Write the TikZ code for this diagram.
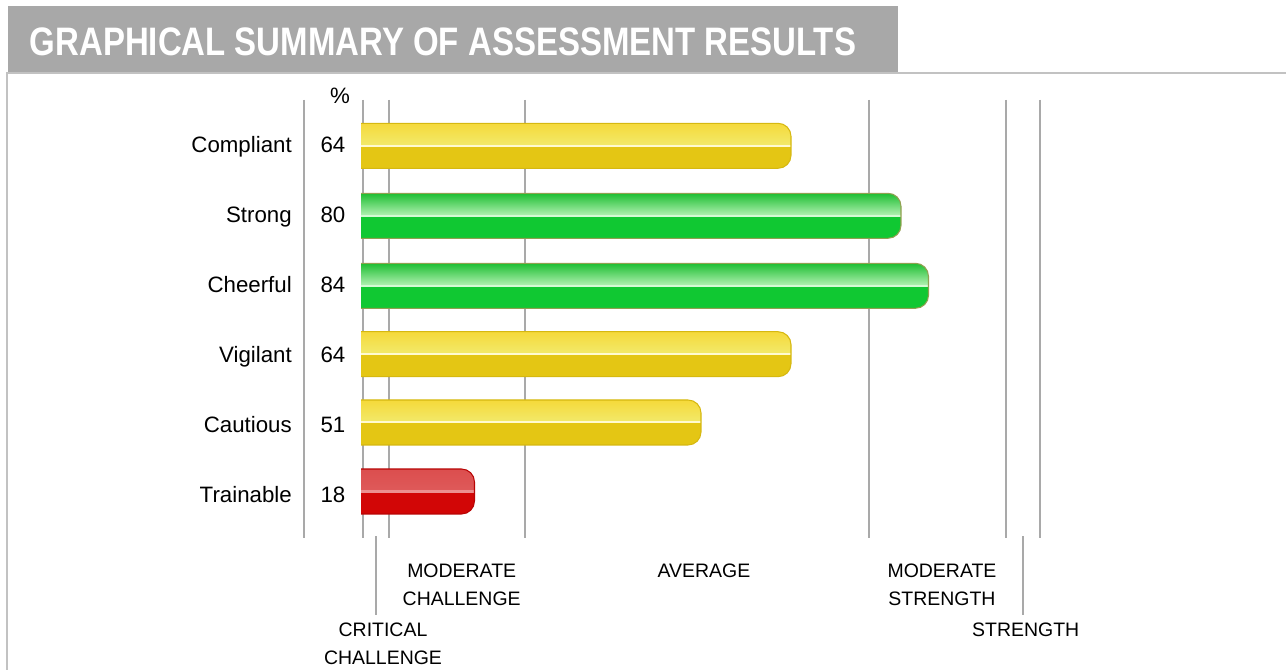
\documentclass[tikz,border=0pt]{standalone}
\usepackage{fontspec}
\setmainfont{Liberation Sans}
\definecolor{headgray}{HTML}{A8A8A8}
\definecolor{framegray}{HTML}{C2C2C2}
\definecolor{gridgray}{HTML}{A9A9A9}
% yellow
\definecolor{yA}{HTML}{F5D93A}
\definecolor{yB}{HTML}{F2EA6C}
\definecolor{yH}{HTML}{FFFAD0}
\definecolor{yC}{HTML}{E4C614}
\definecolor{yE}{HTML}{D6B810}
% green
\definecolor{gA}{HTML}{1EBE32}
\definecolor{gB}{HTML}{B4F2B4}
\definecolor{gH}{HTML}{D4FAD4}
\definecolor{gC}{HTML}{10C832}
\definecolor{gE}{HTML}{92A050}
% red
\definecolor{rA}{HTML}{DC4E4E}
\definecolor{rB}{HTML}{DE5A5A}
\definecolor{rH}{HTML}{EC9090}
\definecolor{rC}{HTML}{D20606}
\definecolor{rE}{HTML}{B80404}
\tikzset{
  grid line/.style={draw=gridgray, line width=1.8pt},
  rowlab/.style={inner sep=0pt, font=\fontsize{16.7}{20}\selectfont, text=black},
  bandlab/.style={inner sep=0pt, align=center, anchor=north, font=\fontsize{14.6}{21}\selectfont, text=black},
  titlelab/.style={inner sep=0pt, anchor=base west, text=white, font=\fontsize{29.8}{34}\selectfont\bfseries},
}
% #1 centre y, #2 end x, #3 colour prefix
\newcommand\resbar[3]{%
  \begin{scope}
    \clip (361,#1-22.5) -- ({#2-13},#1-22.5) .. controls ({#2-5.8},#1-22.5) and (#2,#1-16.7) .. (#2,#1-9.5)
      -- (#2,#1+9.5) .. controls (#2,#1+16.7) and ({#2-5.8},#1+22.5) .. ({#2-13},#1+22.5) -- (361,#1+22.5) -- cycle;
    \shade[top color=#3A, bottom color=#3B] (361,#1-22.5) rectangle (#2,#1);
    \fill[#3C] (361,#1) rectangle (#2,#1+22.5);
    \fill[#3H] (361,#1-1.2) rectangle (#2,#1+1);
  \end{scope}
  \draw[#3E, line width=0.8pt] (361,#1-22.5) -- ({#2-13},#1-22.5) .. controls ({#2-5.8},#1-22.5) and (#2,#1-16.7) .. (#2,#1-9.5)
      -- (#2,#1+9.5) .. controls (#2,#1+16.7) and ({#2-5.8},#1+22.5) .. ({#2-13},#1+22.5) -- (361,#1+22.5);
}
\begin{document}
\begin{tikzpicture}[x=0.75pt,y=-0.75pt]
\useasboundingbox (0,0) rectangle (1286,670);
\fill[white] (0,0) rectangle (1286,670);
% header
\fill[headgray] (8,6) rectangle (898,72);
\node[titlelab] (title) at (29.5,55.7) {\scalebox{0.83}[1]{GRAPHICAL SUMMARY OF ASSESSMENT RESULTS}};
\draw[framegray, line width=1.5pt] (1286,73) -- (7,73) -- (7,670);
% grid lines
\foreach \gx in {304,363,389,525,869,1006,1040}
  \draw[grid line] (\gx,100) -- (\gx,538);
\draw[grid line] (376,536) -- (376,615);
\draw[grid line] (1023,536) -- (1023,615);
% percent
\node[rowlab, anchor=base] (pct) at (340,104) {\%};
% bars
\resbar{145.8}{791}{y}
\resbar{215.8}{901}{g}
\resbar{285.8}{928.5}{g}
\resbar{354.2}{791}{y}
\resbar{422.5}{701}{y}
\resbar{491.5}{474.5}{r}
% row labels
\node[rowlab, anchor=base east] (lCompliant) at (292,152.7) {Compliant};
\node[rowlab, anchor=base east] (lStrong) at (292,222.7) {Strong};
\node[rowlab, anchor=base east] (lCheerful) at (292,292.7) {Cheerful};
\node[rowlab, anchor=base east] (lVigilant) at (292,362.7) {Vigilant};
\node[rowlab, anchor=base east] (lCautious) at (292,432.7) {Cautious};
\node[rowlab, anchor=base east] (lTrainable) at (292,502.7) {Trainable};
\node[rowlab, anchor=base] (vCompliant) at (333,152.7) {64};
\node[rowlab, anchor=base] (vStrong) at (333,222.7) {80};
\node[rowlab, anchor=base] (vCheerful) at (333,292.7) {84};
\node[rowlab, anchor=base] (vVigilant) at (333,362.7) {64};
\node[rowlab, anchor=base] (vCautious) at (333,432.7) {51};
\node[rowlab, anchor=base] (vTrainable) at (333,502.7) {18};
% band labels
\node[bandlab] (bModChal) at (461.7,563.3) {MODERATE\\CHALLENGE};
\node[bandlab] (bAverage) at (704,563.3) {AVERAGE};
\node[bandlab] (bModStr) at (942,563.3) {MODERATE\\STRENGTH};
\node[bandlab] (bCritChal) at (383,622.7) {CRITICAL\\CHALLENGE};
\node[bandlab] (bStrength) at (1025.7,622.7) {STRENGTH};
\end{tikzpicture}
\end{document}
